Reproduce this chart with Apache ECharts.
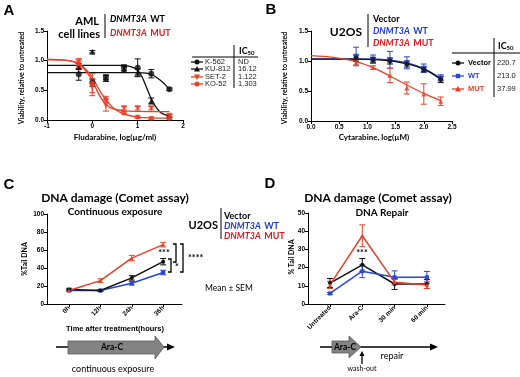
<!DOCTYPE html>
<html>
<head>
<meta charset="utf-8">
<script src="https://cdn.jsdelivr.net/npm/echarts@6/dist/echarts.min.js"></script>
<style>
html,body{margin:0;padding:0;background:#fff;}
#c{width:520px;height:377px;}
</style>
</head>
<body>
<div id="c"></div>
<script>
// ---- panel A: fludarabine, AML cell lines
const aX = [-0.3, 0, 0.3, 0.7, 1.0, 1.3, 1.7];
const k562 = [0.77, 0.63, 0.72, 0.88, 0.88, 0.78, 0.52];
const k562Err = [0.1, 0.06, 0.04, 0.05, 0.15, 0.07, 0.02];
const ku812 = [0.90, 1.15, 0.70, 0.85, 0.80, 0.32, 0.07];
const ku812Err = [0.05, 0.02, 0.05, 0.05, 0.06, 0.05, 0.02];
const set2 = [0.97, 0.55, 0.25, 0.20, 0.20, 0.20, 0.07];
const set2Err = [0.06, 0.14, 0.1, 0.03, 0.03, 0.03, 0.02];
const ko52 = [0.95, 0.62, 0.35, 0.12, 0.05, 0.03, 0.03];
const ko52Err = [0.08, 0.16, 0.05, 0.02, 0.02, 0.02, 0.02];
// fitted curves
const k562Curve = [[-1,0.80],[0.5,0.80],[1.0,0.80],[1.2,0.79],[1.35,0.75],[1.5,0.67],[1.6,0.60],[1.7,0.52]];
const ku812Curve = [[-1,0.92],[0.6,0.92],[0.85,0.90],[1.0,0.84],[1.1,0.72],[1.2,0.54],[1.3,0.36],[1.4,0.22],[1.5,0.13],[1.6,0.09],[1.7,0.07]];
const set2Curve = [[-1,1.02],[-0.6,1.01],[-0.35,0.96],[-0.15,0.83],[0,0.66],[0.1,0.50],[0.2,0.36],[0.3,0.26],[0.45,0.19],[0.7,0.155],[1.0,0.145],[1.7,0.14]];
const ko52Curve = [[-1,1.02],[-0.6,1.01],[-0.35,0.97],[-0.15,0.86],[0,0.72],[0.1,0.58],[0.2,0.45],[0.3,0.34],[0.5,0.18],[0.7,0.10],[1.0,0.05],[1.3,0.035],[1.7,0.03]];
const aNames = ['K-562', 'KU-812', 'SET-2', 'KO-52'];
const aIC50 = ['ND', '16.12', '1.122', '1.303'];

// ---- panel B: cytarabine, U2OS
const bX = [0.8, 1.1, 1.4, 1.7, 2.0, 2.3];
const bVec = [1.05, 1.02, 1.00, 0.95, 0.86, 0.69];
const bVecErr = [0.05, 0.04, 0.05, 0.05, 0.04, 0.05];
const bWT = [1.08, 1.03, 1.02, 0.97, 0.88, 0.72];
const bWTErr = [0.15, 0.07, 0.14, 0.1, 0.07, 0.05];
const bMUT = [0.98, 0.89, 0.76, 0.55, 0.45, 0.33];
const bMUTErr = [0.06, 0.03, 0.12, 0.1, 0.17, 0.07];
const bVecCurve = [[0,1.03],[0.8,1.03],[1.2,1.02],[1.5,0.99],[1.8,0.93],[2.0,0.86],[2.15,0.79],[2.3,0.69]];
const bWTCurve = [[0,1.035],[0.8,1.035],[1.2,1.03],[1.5,1.0],[1.8,0.945],[2.0,0.875],[2.15,0.80],[2.3,0.71]];
const bMUTCurve = [[0,1.09],[0.4,1.06],[0.8,0.99],[1.1,0.89],[1.4,0.75],[1.7,0.60],[2.0,0.46],[2.3,0.34]];
const bNames = ['Vector', 'WT', 'MUT'];
const bIC50 = ['220.7', '213.0', '37.99'];

// ---- panel C: comet assay, continuous exposure
const cCats = ['0h', '12h', '24h', '36h'];
const cVec = [16, 15, 29, 47];
const cVecErr = [1.5, 1, 2.5, 3.5];
const cWT = [15, 15, 23, 35];
const cWTErr = [1, 1, 2, 2.5];
const cMUT = [15, 26, 51, 66];
const cMUTErr = [1, 2, 3, 2.5];

// ---- panel D: comet assay, repair
const dCats = ['Untreated', 'Ara-C', '30 min', '60 min'];
const dVec = [11.5, 21.5, 11, 11];
const dVecErr = [2.5, 3.5, 3, 2.5];
const dWT = [5.8, 18, 14.7, 14.7];
const dWTErr = [0.5, 3.5, 3.5, 3.2];
const dMUT = [10.5, 37.5, 12, 10.5];
const dMUTErr = [2, 6, 1.5, 2];

const RED = '#ee3f26', BLUE = '#2a45dc', BLK = '#111', RTXT = '#e3171c', BTXT = '#1e3ad6';
const TF = 'Lato, "Open Sans", sans-serif';
const AF = '"Liberation Sans", Arial, sans-serif';

const idx = [0, 1, 2, 3];
const pts = (xs, ys) => xs.map((x, i) => [x, ys[i]]);
const errs = (xs, ys, es) => xs.map((x, i) => [x, ys[i] - es[i], ys[i] + es[i]]);

function errItem(params, api) {
  const x = api.value(0);
  const lo = api.coord([x, api.value(1)]);
  const hi = api.coord([x, api.value(2)]);
  const c = api.visual('color'), w = 3;
  const st = {stroke: c, lineWidth: 1};
  return {type: 'group', children: [
    {type: 'line', shape: {x1: lo[0], y1: lo[1], x2: hi[0], y2: hi[1]}, style: st},
    {type: 'line', shape: {x1: lo[0] - w, y1: lo[1], x2: lo[0] + w, y2: lo[1]}, style: st},
    {type: 'line', shape: {x1: hi[0] - w, y1: hi[1], x2: hi[0] + w, y2: hi[1]}, style: st}
  ]};
}

function axisBase(g) {
  return {
    gridIndex: g, type: 'value', splitLine: {show: false},
    axisLine: {onZero: false, lineStyle: {color: '#000', width: 1}},
    axisTick: {length: 3, lineStyle: {color: '#000', width: 1}},
    axisLabel: {fontSize: 6.5, fontWeight: 'bold', color: '#000', margin: 3, fontFamily: AF}
  };
}

const xAxes = [
  Object.assign(axisBase(0), {min: -1, max: 2, interval: 1}),
  Object.assign(axisBase(1), {min: 0, max: 2.5, interval: 0.5, axisLabel: Object.assign(axisBase(1).axisLabel, {formatter: v => v.toFixed(1)})}),
  Object.assign(axisBase(2), {min: -0.7, max: 3.6,
    axisTick: {length: 3, lineStyle: {color: '#000'}, customValues: idx},
    axisLabel: Object.assign(axisBase(2).axisLabel, {customValues: idx, rotate: 45, formatter: v => cCats[Math.round(v)]})}),
  Object.assign(axisBase(3), {min: -0.68, max: 3.56,
    axisTick: {length: 3, lineStyle: {color: '#000'}, customValues: idx},
    axisLabel: Object.assign(axisBase(3).axisLabel, {customValues: idx, rotate: 45, formatter: v => dCats[Math.round(v)]})})
];
const yAxes = [
  Object.assign(axisBase(0), {min: 0, max: 1.5, interval: 0.5, axisLabel: Object.assign(axisBase(0).axisLabel, {formatter: v => v.toFixed(1)})}),
  Object.assign(axisBase(1), {min: 0, max: 1.5, interval: 0.5, axisLabel: Object.assign(axisBase(1).axisLabel, {formatter: v => v.toFixed(1)})}),
  Object.assign(axisBase(2), {min: 0, max: 100, interval: 20}),
  Object.assign(axisBase(3), {min: 0, max: 50, interval: 10})
];

function curve(g, data, color) {
  return {type: 'line', xAxisIndex: g, yAxisIndex: g, data: data, smooth: 0.35, showSymbol: false,
    lineStyle: {color: color, width: 1.3}, z: 2};
}
function dots(g, data, color, symbol, size, rot) {
  return {type: 'scatter', xAxisIndex: g, yAxisIndex: g, data: data, symbol: symbol, symbolSize: size,
    symbolRotate: rot || 0, itemStyle: {color: color}, z: 4};
}
function ebar(g, data, color) {
  return {type: 'custom', xAxisIndex: g, yAxisIndex: g, data: data, renderItem: errItem,
    itemStyle: {color: color}, z: 3};
}
function trace(g, data, color, symbol, size) {
  return {type: 'line', xAxisIndex: g, yAxisIndex: g, data: data, symbol: symbol, symbolSize: size,
    showSymbol: true, lineStyle: {color: color, width: 1.5}, itemStyle: {color: color}, z: 4};
}

const series = [
  curve(0, k562Curve, BLK), curve(0, ku812Curve, BLK), curve(0, set2Curve, RED), curve(0, ko52Curve, RED),
  ebar(0, errs(aX, k562, k562Err), BLK), ebar(0, errs(aX, ku812, ku812Err), BLK),
  ebar(0, errs(aX, set2, set2Err), RED), ebar(0, errs(aX, ko52, ko52Err), RED),
  dots(0, pts(aX, k562), BLK, 'circle', 6), dots(0, pts(aX, ku812), BLK, 'triangle', 6),
  dots(0, pts(aX, set2), RED, 'triangle', 6, 180), dots(0, pts(aX, ko52), RED, 'circle', 5),

  curve(1, bWTCurve, BLUE), curve(1, bVecCurve, BLK), curve(1, bMUTCurve, RED),
  ebar(1, errs(bX, bWT, bWTErr), BLUE), ebar(1, errs(bX, bVec, bVecErr), BLK), ebar(1, errs(bX, bMUT, bMUTErr), RED),
  dots(1, pts(bX, bWT), BLUE, 'rect', 5), dots(1, pts(bX, bVec), BLK, 'circle', 5), dots(1, pts(bX, bMUT), RED, 'triangle', 5),

  ebar(2, errs(idx, cVec, cVecErr), BLK), ebar(2, errs(idx, cWT, cWTErr), BLUE), ebar(2, errs(idx, cMUT, cMUTErr), RED),
  trace(2, pts(idx, cWT), BLUE, 'rect', 4), trace(2, pts(idx, cVec), BLK, 'circle', 4), trace(2, pts(idx, cMUT), RED, 'triangle', 4),

  ebar(3, errs(idx, dVec, dVecErr), BLK), ebar(3, errs(idx, dWT, dWTErr), BLUE), ebar(3, errs(idx, dMUT, dMUTErr), RED),
  trace(3, pts(idx, dVec), BLK, 'circle', 4), trace(3, pts(idx, dWT), BLUE, 'rect', 4), trace(3, pts(idx, dMUT), RED, 'triangle', 4)
];

// ---- annotations
function T(x, y, text, size, opts) {
  opts = opts || {};
  return {type: 'text', x: x, y: y, rotation: opts.rot || 0, z: 20, style: {
    text: text, fontSize: size, fontFamily: opts.family || TF, fontWeight: opts.weight || 'bold',
    fontStyle: opts.italic ? 'italic' : 'normal',
    fill: opts.color || '#000', align: opts.align || 'center', verticalAlign: 'middle'}};
}
function gene(x, y, tail, color, size) {
  const s = {fontSize: size, fontFamily: TF, fontWeight: 'bold', fill: color};
  return {type: 'text', x: x, y: y, z: 20, style: {
    text: '{i|DNMT3A} {n|' + tail + '}', align: 'left', verticalAlign: 'middle',
    rich: {i: Object.assign({fontStyle: 'italic'}, s), n: s}}};
}
function ic50(x, y) {
  return {type: 'text', x: x, y: y, z: 20, style: {
    text: '{b|IC}{s|50}', align: 'left', verticalAlign: 'middle',
    rich: {b: {fontSize: 9, fontFamily: TF, fontWeight: 'bold', fill: '#000'},
           s: {fontSize: 6, fontFamily: TF, fontWeight: 'bold', fill: '#000', padding: [4, 0, 0, 0]}}}};
}
function L(x1, y1, x2, y2, w, color) {
  return {type: 'line', z: 10, shape: {x1: x1, y1: y1, x2: x2, y2: y2}, style: {stroke: color || '#000', lineWidth: w || 1}};
}
function mark(x, y, color, kind, rot) {
  const out = [L(x - 6, y, x + 6, y, 1.3, color)];
  if (kind === 'circle') out.push({type: 'circle', z: 11, shape: {cx: x, cy: y, r: 2.5}, style: {fill: color}});
  else if (kind === 'rect') out.push({type: 'rect', z: 11, shape: {x: x - 2.2, y: y - 2.2, width: 4.4, height: 4.4}, style: {fill: color}});
  else {
    const d = rot ? -1 : 1;
    out.push({type: 'polygon', z: 11, shape: {points: [[x, y - 3 * d], [x - 3, y + 2.4 * d], [x + 3, y + 2.4 * d]]}, style: {fill: color}});
  }
  return out;
}
function bracket(x, y1, y2) {
  return {type: 'polyline', z: 10, shape: {points: [[x - 3, y1], [x, y1], [x, y2], [x - 3, y2]]}, style: {stroke: '#000', lineWidth: 1.3, fill: null}};
}

const aRowsY = [62, 69, 77, 84];
const aKinds = [['circle', 0, BLK], ['tri', 0, BLK], ['tri', 1, RED], ['circle', 0, RED]];
const bRowsY = [63, 76, 89];
const bKinds = [['circle', BLK, BLK], ['rect', BLUE, BLUE], ['tri', RED, RED]];

let g = [
  T(9, 11, 'A', 15, {family: AF}), T(271, 10, 'B', 15, {family: AF}),
  T(9, 185, 'C', 15, {family: AF}), T(270, 184, 'D', 15, {family: AF}),

  T(99, 21, 'AML', 11, {align: 'right'}), T(100, 34, 'cell lines', 11, {align: 'right'}),
  L(105, 14, 105, 38), gene(110, 19, 'WT', '#000', 9), gene(110, 33, 'MUT', RTXT, 9),
  T(115, 137, 'Fludarabine, log(µg/ml)', 8),
  T(22, 78, 'Viability, relative to untreated', 7, {rot: Math.PI / 2}),
  ic50(239, 51), L(192, 57, 258, 57), L(234, 45, 234, 88),

  T(362, 32, 'U2OS', 12, {align: 'right'}), L(368, 14, 368, 47),
  T(373, 19, 'Vector', 9, {align: 'left'}), gene(373, 31, 'WT', BTXT, 9), gene(373, 43, 'MUT', RTXT, 9),
  T(374, 137, 'Cytarabine, log(µM)', 8),
  T(285, 78, 'Viability, relative to untreated', 7, {rot: Math.PI / 2}),
  ic50(498, 46), L(452, 53, 520, 53), L(494, 38, 494, 97),

  T(115, 198, 'DNA damage (Comet assay)', 12), T(115, 212, 'Continuous exposure', 10),
  T(25, 259, '%Tail DNA', 7, {rot: Math.PI / 2}),
  T(115, 329, 'Time after treatment(hours)', 7.5, {family: AF}),
  T(218, 225, 'U2OS', 11, {align: 'right'}), L(221, 208, 221, 239),
  T(224, 216, 'Vector', 9, {align: 'left'}), gene(224, 226, 'WT', BTXT, 9), gene(224, 236, 'MUT', RTXT, 9),
  T(205, 288, 'Mean ± SEM', 8.5, {weight: 'normal', align: 'left'}),
  T(164, 253, '***', 9), bracket(176, 244, 262), bracket(171, 259, 272), T(175, 267, '*', 9, {align: 'left'}),
  bracket(183, 244, 272), T(188, 258, '****', 9, {align: 'left'}),
  L(56, 347, 170, 347, 1.3),
  {type: 'polygon', z: 10, shape: {points: [[175, 347], [167, 343.5], [167, 350.5]]}, style: {fill: '#000'}},
  {type: 'polygon', z: 11, shape: {points: [[68, 341], [155, 341], [155, 336], [164, 347], [155, 359], [155, 354], [68, 354]]},
   style: {fill: '#838383', stroke: '#5a5a5a', lineWidth: 0.8}},
  T(112, 347, 'Ara-C', 8.5), T(113, 369, 'continuous exposure', 9, {weight: 'normal'}),

  T(378, 198, 'DNA damage (Comet assay)', 12), T(382, 213, 'DNA Repair', 10),
  T(292, 257, '% Tail DNA', 7, {rot: Math.PI / 2}),
  T(362, 253, '***', 9),
  L(320, 347, 432, 347, 1.3),
  {type: 'polygon', z: 10, shape: {points: [[438, 347], [430, 343.5], [430, 350.5]]}, style: {fill: '#000'}},
  {type: 'polygon', z: 11, shape: {points: [[332, 341], [349, 341], [349, 336], [361, 347], [349, 358], [349, 353], [332, 353]]},
   style: {fill: '#838383', stroke: '#5a5a5a', lineWidth: 0.8}},
  T(345, 347, 'Ara-C', 8.5),
  L(362, 364, 362, 355, 1.3),
  {type: 'polygon', z: 10, shape: {points: [[362, 351], [359.5, 356], [364.5, 356]]}, style: {fill: '#000'}},
  T(362, 369, 'wash-out', 7, {weight: 'normal'}), T(392, 356, 'repair', 9, {weight: 'normal'})
];
aNames.forEach((n, i) => {
  const k = aKinds[i];
  g = g.concat(mark(197, aRowsY[i], k[2], k[0], k[1]));
  g.push(T(205, aRowsY[i], n, 7.5, {family: AF, weight: 'normal', align: 'left', color: '#222'}));
  g.push(T(238, aRowsY[i], aIC50[i], 7.5, {family: AF, weight: 'normal', align: 'left', color: '#222'}));
});
bNames.forEach((n, i) => {
  const k = bKinds[i];
  g = g.concat(mark(458, bRowsY[i], k[1], k[0], 0));
  g.push(T(468, bRowsY[i], n, 7.5, {family: AF, align: 'left', color: i === 0 ? '#000' : k[2]}));
  g.push(T(497, bRowsY[i], bIC50[i], 7.5, {family: AF, weight: 'normal', align: 'left', color: '#222'}));
});

const chart = echarts.init(document.getElementById('c'));
chart.setOption({
  animation: false,
  grid: [
    {left: 47, top: 31, width: 136, height: 89},
    {left: 311, top: 31, width: 141, height: 90},
    {left: 47, top: 214, width: 135, height: 90},
    {left: 308, top: 213, width: 137, height: 91}
  ],
  xAxis: xAxes,
  yAxis: yAxes,
  series: series,
  graphic: g
});
</script>
</body>
</html>
